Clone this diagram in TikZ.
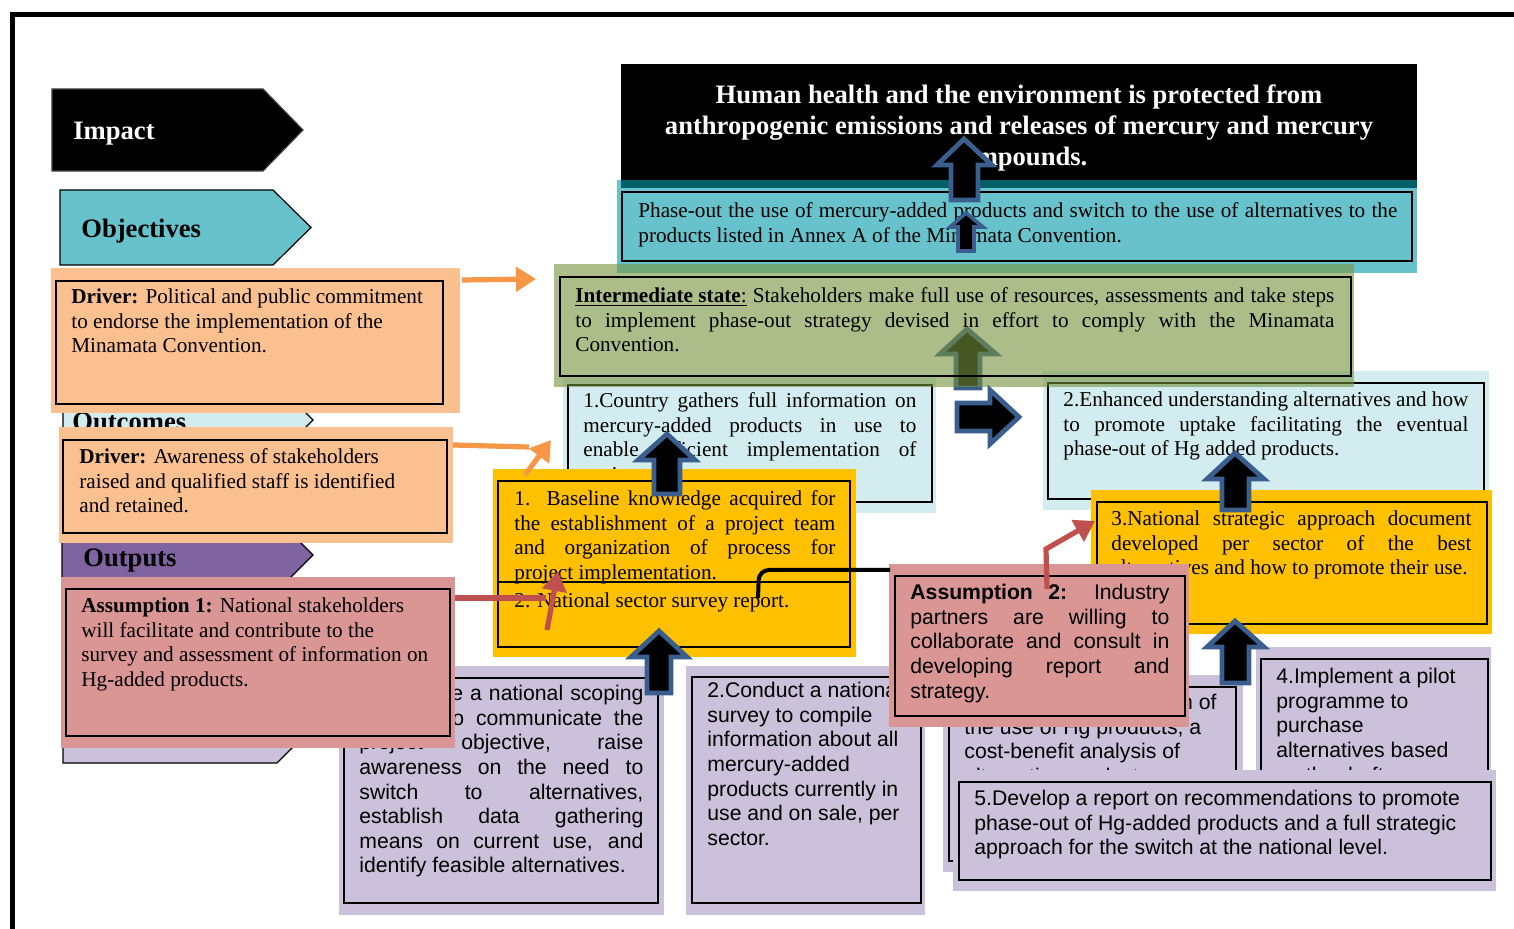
\documentclass[tikz,border=0pt]{standalone}
\usepackage{fontspec}
\setmainfont{Liberation Serif}
\setsansfont{Liberation Sans}
\usetikzlibrary{arrows.meta,fit}
\definecolor{cObj}{HTML}{67C2CB}
\definecolor{cDark}{HTML}{035F68}
\definecolor{cLB}{HTML}{D3ECF0}
\definecolor{cOlive}{HTML}{76923C}
\definecolor{cPeach}{HTML}{FAC090}
\definecolor{cPink}{HTML}{D99694}
\definecolor{cYel}{HTML}{FFC000}
\definecolor{cLav}{HTML}{CCC1DA}
\definecolor{cPur}{HTML}{8064A2}
\definecolor{cOra}{HTML}{F79646}
\definecolor{cRed}{HTML}{C0504D}
\definecolor{cArr}{HTML}{3A5F8F}
\newcommand{\jline}[2]{\makebox[#1][s]{#2}}
\tikzset{
  boxfill/.style={inner sep=0pt, outer sep=0pt, draw=none},
  boxline/.style={inner sep=0pt, outer sep=0pt, draw=black, line width=1.3pt},
  chev/.style={draw=black, line width=0.6pt, line join=miter},
  lab/.style={anchor=base west, inner sep=0pt, font=\bfseries\fontsize{13.3}{15.5}\selectfont},
  txt/.style={anchor=north west, inner sep=0pt, align=left, font=\fontsize{10.6}{12.3}\selectfont},
  stxt/.style={anchor=north west, inner sep=0pt, align=left, font=\sffamily\fontsize{10.6}{12.3}\selectfont},
  blk/.style={fill=black, draw=cArr, line width=2.4pt, line join=miter},
  oline/.style={draw=cOra, line width=2.6pt},
  rline/.style={draw=cRed, line width=2.6pt},
  ahead/.style={-{Triangle[length=10pt,width=12pt]}},
}
\begin{document}
\begin{tikzpicture}[x=0.5pt,y=-0.5pt]
\useasboundingbox (0,0) rectangle (1514,929);
\fill[white] (0,0) rectangle (1514,929);
% frame
\draw[line width=2.5pt, line join=miter] (12.5,940) -- (12.5,14.5) -- (1525,14.5);

% level chevrons
\draw[chev, fill=black, draw=darkgray] (52,89) -- (263,89) -- (303,130) -- (263,171) -- (52,171) -- cycle;
\node[lab, text=white] (impl) at (73,140) {Impact};
\draw[chev, fill=cObj] (60,190) -- (273,190) -- (311,227.5) -- (273,265) -- (60,265) -- cycle;
\node[lab] (objl) at (81,238) {Objectives};
\draw[chev, fill=cLB] (63,395) -- (288,395) -- (313,420) -- (288,445) -- (63,445) -- cycle;
\node[lab] (outcl) at (72,431) {Outcomes};
\draw[chev, fill=cPur] (62,533) -- (291,533) -- (313,555) -- (289,579) -- (62,579) -- cycle;
\node[lab] (outpl) at (83,567) {Outputs};
\draw[chev, fill=cLav] (63,691) -- (277,691) -- (313,727) -- (277,763) -- (63,763) -- cycle;

% impact box
\node[boxfill, fit={(621,64)(1417,180)}, fill=black] (imp) {};
\node[anchor=north, inner sep=0pt, align=center, text=white, font=\bfseries\fontsize{13.3}{15.5}\selectfont] (impt) at (1019,81)
 {\strut Human health and the environment is protected from\\anthropogenic emissions and releases of mercury and mercury\\compounds.};

% objective box
\node[boxfill, fit={(617,180)(1417,273)}, fill=cObj] (obj) {};
\fill[cDark] (621,180) rectangle (1417,188);
\node[boxline, fit={(622,192)(1412,261)}] (objb) {};
\node[txt] (objt) at (638,200) {\strut\jline{379.5pt}{Phase-out the use of mercury-added products and switch to the use of alternatives to the}\\products listed in Annex A of the Minamata Convention.};
\draw[blk] (951,200) -- (951,165) -- (937,165) -- (964,139) -- (992,165) -- (978,165) -- (978,200) -- cycle;
\draw[blk, line width=1.8pt] (958,251) -- (958,227) -- (950,227) -- (966,213) -- (983,227) -- (974,227) -- (974,251) -- cycle;

% arrow under intermediate
\draw[blk] (956,388) -- (956,354) -- (940,354) -- (967,329) -- (996,354) -- (980,354) -- (980,388) -- cycle;

% outcomes
\node[boxfill, fit={(563,378)(936,513)}, fill=cLB] (oc1) {};
\node[boxline, fit={(568,385)(932,502)}] (oc1b) {};
\node[txt] (oc1t) at (583,390) {\strut\jline{166.5pt}{1.Country gathers full information on}\\\jline{166.5pt}{mercury-added products in use to}\\\jline{166.5pt}{enable efficient implementation of}\\project.};
\node[boxfill, fit={(1043,371)(1489,510)}, fill=cLB] (oc2) {};
\node[boxline, fit={(1048,383)(1484,499)}] (oc2b) {};
\node[txt] (oc2t) at (1063,389) {\strut\jline{202.5pt}{2.Enhanced understanding alternatives and how}\\\jline{202.5pt}{to promote uptake facilitating the eventual}\\phase-out of Hg added products.};

% intermediate state
\node[boxfill, fit={(554,264)(1354,387)}, fill=cOlive, fill opacity=0.6] (int) {};
\node[boxline, fit={(560,277)(1351,376)}] (intb) {};
\node[txt] (intt) at (575,285) {\strut\jline{379.5pt}{\underline{\textbf{Intermediate state}:} Stakeholders make full use of resources, assessments and take steps}\\\jline{379.5pt}{to implement phase-out strategy devised in effort to comply with the Minamata}\\Convention.};
\draw[blk] (957,403) -- (990,403) -- (990,390) -- (1019,417) -- (990,444) -- (990,431) -- (957,431) -- cycle;

% drivers
\node[boxfill, fit={(51,268)(460,413)}, fill=cPeach] (d1) {};
\node[boxline, fit={(56,281)(443,404)}] (d1b) {};
\node[txt] (d1t) at (71,286) {\strut\textbf{Driver:} Political and public commitment\\to endorse the implementation of the\\Minamata Convention.};
\node[boxfill, fit={(59,427)(453,543)}, fill=cPeach] (d2) {};
\node[boxline, fit={(63,440)(447,533)}] (d2b) {};
\node[txt] (d2t) at (79,446) {\strut\textbf{Driver:} Awareness of stakeholders\\raised and qualified staff is identified\\and retained.};

% outputs
\node[boxfill, fit={(493,469)(856,657)}, fill=cYel] (op1) {};
\node[boxline, fit={(498,481)(850,647)}] (op1b) {};
\draw[line width=1.3pt] (498,582) -- (850,582);
\node[txt] (op1t) at (514,488) {\strut\jline{160.5pt}{1. Baseline knowledge acquired for}\\\jline{160.5pt}{the establishment of a project team}\\\jline{160.5pt}{and organization of process for}\\project implementation.};
\node[txt] (op2t) at (514,590) {\strut 2. National sector survey report.};
\draw[blk] (654,494) -- (654,460) -- (638,460) -- (667,434) -- (695,460) -- (680,460) -- (680,494) -- cycle;

\node[boxfill, fit={(1091,490)(1492,634)}, fill=cYel] (op3) {};
\node[boxline, fit={(1097,502)(1487,624)}] (op3b) {};
\node[txt] (op3t) at (1111,508) {\strut\jline{180pt}{3.National strategic approach document}\\\jline{180pt}{developed per sector of the best}\\alternatives and how to promote their use.};
\draw[blk] (1222,510) -- (1222,479) -- (1207,479) -- (1235,453) -- (1264,479) -- (1249,479) -- (1249,510) -- cycle;

% activities
\node[boxfill, fit={(339,666)(664,915)}, fill=cLav] (a1) {};
\node[boxline, fit={(344,678)(658,903)}] (a1b) {};
\node[stxt] (a1t) at (359,683) {\strut\jline{142pt}{1.Organize a national scoping}\\\jline{142pt}{meeting to communicate the}\\\jline{142pt}{project objective, raise}\\\jline{142pt}{awareness on the need to}\\\jline{142pt}{switch to alternatives,}\\\jline{142pt}{establish data gathering}\\\jline{142pt}{means on current use, and}\\identify feasible alternatives.};
\node[boxfill, fit={(686,666)(925,915)}, fill=cLav] (a2) {};
\node[boxline, fit={(692,677)(921,903)}] (a2b) {};
\node[stxt] (a2t) at (707,680) {\strut 2.Conduct a national\\survey to compile\\information about all\\mercury-added\\products currently in\\use and on sale, per\\sector.};
\node[boxfill, fit={(943,675)(1243,872)}, fill=cLav] (a3) {};
\node[boxline, fit={(949,687)(1236,861)}] (a3b) {};
\node[stxt] (a3t) at (964,692) {\strut 3.Conduct an evaluation of\\the use of Hg products, a\\cost-benefit analysis of\\alternative products.};
\node[boxfill, fit={(1256,647)(1491,800)}, fill=cLav] (a4) {};
\node[boxline, fit={(1261,659)(1488,800)}] (a4b) {};
\node[stxt] (a4t) at (1276,666) {\strut 4.Implement a pilot\\programme to\\purchase\\alternatives based\\on the draft};
\node[boxfill, fit={(953,770)(1496,891)}, fill=cLav] (a5) {};
\node[boxline, fit={(959,782)(1491,880)}] (a5b) {};
\node[stxt] (a5t) at (974,788) {\strut 5.Develop a report on recommendations to promote\\phase-out of Hg-added products and a full strategic\\approach for the switch at the national level.};

% assumptions
\node[boxfill, fit={(61,577)(455,748)}, fill=cPink] (as1) {};
\node[boxline, fit={(66,589)(450,736)}] (as1b) {};
\node[txt] (as1t) at (81,595) {\strut\textbf{Assumption 1:} National stakeholders\\will facilitate and contribute to the\\survey and assessment of information on\\Hg-added products.};
\node[boxfill, fit={(889,564)(1189,727)}, fill=cPink] (as2) {};
\node[boxline, fit={(895,576)(1185,716)}] (as2b) {};
\node[stxt] (as2t) at (910,582) {\strut\jline{129.5pt}{\textbf{Assumption 2:} Industry}\\\jline{129.5pt}{partners are willing to}\\\jline{129.5pt}{collaborate and consult in}\\\jline{129.5pt}{developing report and}\\strategy.};

% block arrows from activities
\draw[blk] (647,693) -- (647,657) -- (631,657) -- (659,631) -- (687,657) -- (671,657) -- (671,693) -- cycle;
\draw[blk] (1222,683) -- (1222,647) -- (1207,647) -- (1235,621) -- (1264,647) -- (1249,647) -- (1249,683) -- cycle;

% connectors
\coordinate (o1a) at (462,280); \coordinate (o1b) at (536,279);
\draw[oline, ahead] (o1a) -- (o1b);
\coordinate (o2a) at (453,445); \coordinate (o2m) at (529,447);
\draw[oline] (o2a) -- (o2m);
\coordinate (o2c) at (525,475); \coordinate (o2d) at (551,440);
\draw[oline, ahead] (o2c) -- (o2d);
\coordinate (r1a) at (455,598); \coordinate (r1m) at (546,598);
\draw[rline] (r1a) -- (r1m);
\coordinate (r1c) at (547,630); \coordinate (r1d) at (558,571);
\draw[rline, ahead] (r1c) -- (r1d);
\coordinate (r2a) at (1047,589); \coordinate (r2m) at (1046,549); \coordinate (r2b) at (1095,521);
\draw[rline, ahead] (r2a) -- (r2m) -- (r2b);
\coordinate (k1) at (890,570); \coordinate (k2) at (758,598);
\draw[line width=2pt, rounded corners=5pt] (k1) -- (759,570) -- (k2);
\end{tikzpicture}
\end{document}
